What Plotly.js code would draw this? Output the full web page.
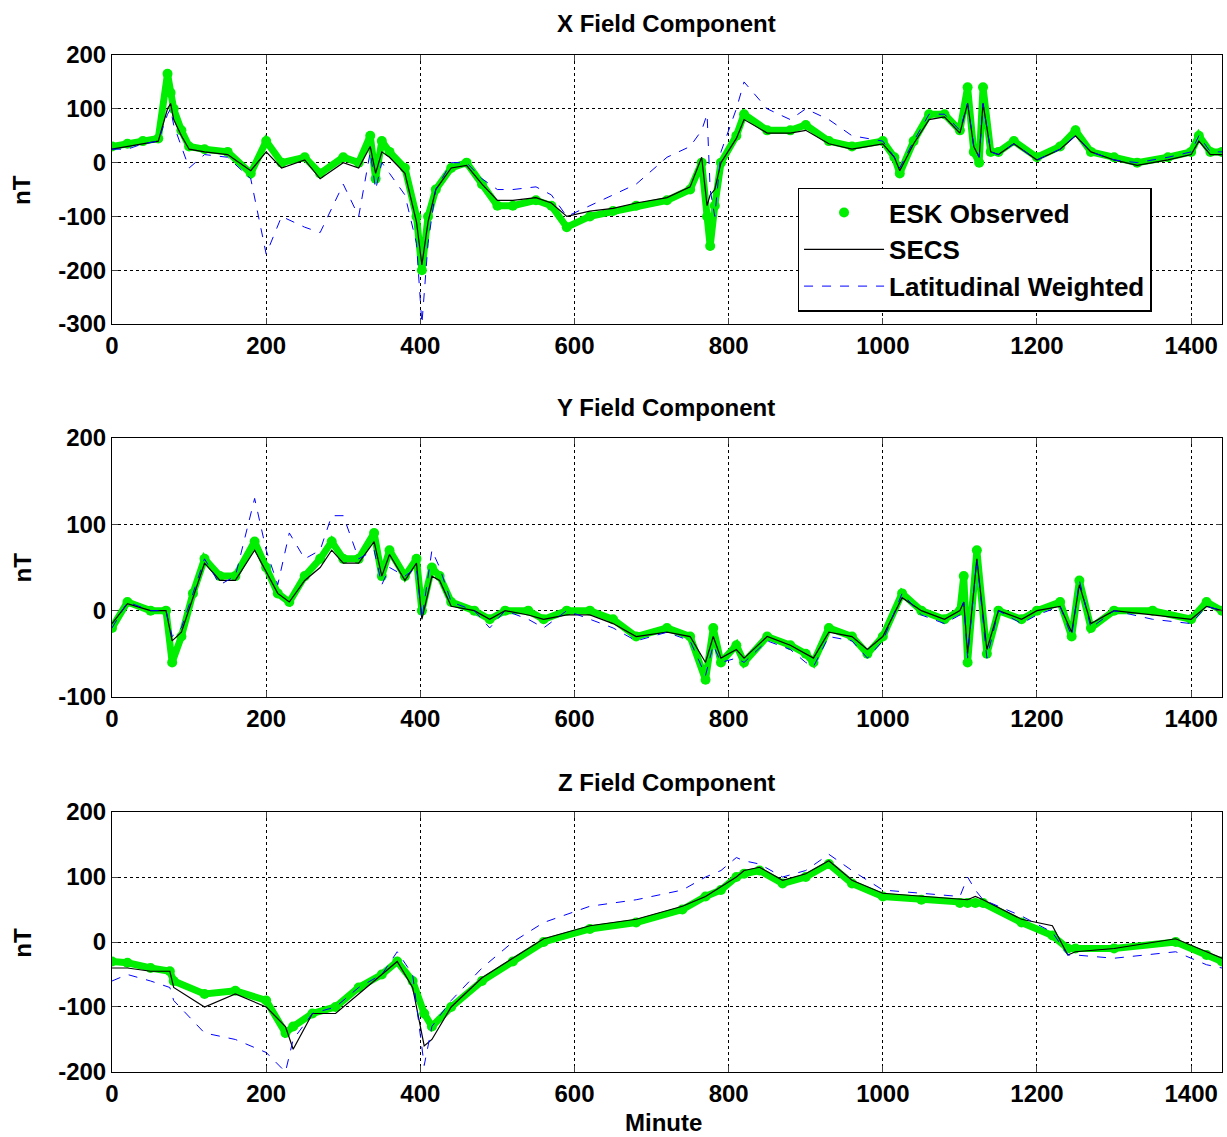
<!DOCTYPE html>
<html>
<head>
<meta charset="utf-8">
<script src="https://cdn.plot.ly/plotly-3.0.1.min.js"></script>
<style>body{margin:0;background:#fff}#chart{width:1227px;height:1137px}</style>
</head>
<body>
<div id="chart"></div>
<script>
// X component
var minX = [0,20,40,60,72,76,80,90,100,120,150,180,200,220,250,270,300,320,335,342,350,360,380,395,402,410,420,440,460,480,500,520,550,570,590,620,650,680,720,750,765,772,776,782,790,810,820,850,880,900,930,960,1000,1015,1022,1040,1060,1080,1100,1110,1118,1125,1130,1140,1150,1170,1200,1230,1250,1270,1300,1330,1370,1400,1410,1425,1440];
var xObs  = [30,35,40,45,165,130,100,60,30,25,20,-20,40,0,10,-20,10,0,50,-30,40,20,-10,-100,-200,-100,-50,-10,0,-40,-80,-80,-70,-80,-120,-100,-90,-80,-70,-50,0,-100,-155,-80,0,50,90,60,60,70,40,30,40,10,-20,40,90,90,60,140,20,0,140,20,20,40,10,30,60,20,10,0,10,20,50,20,20];
var xSecs = [25,30,35,40,100,110,80,50,25,20,15,-15,20,-10,5,-30,0,-10,30,-20,20,10,-20,-110,-190,-110,-50,-10,-5,-40,-70,-70,-65,-75,-100,-90,-85,-75,-65,-45,10,-80,-60,-50,0,45,80,55,55,60,35,25,35,10,-15,35,80,85,55,110,30,10,110,20,15,35,5,25,50,20,5,-5,5,15,40,15,15];
var xLat  = [25,25,35,40,90,100,70,30,-10,15,10,-30,-170,-100,-120,-130,-40,-100,20,-50,0,-20,-60,-150,-300,-150,-50,0,0,-30,-50,-50,-45,-60,-100,-80,-60,-40,10,30,60,90,-50,-100,20,100,150,100,80,100,80,50,40,10,-10,40,90,90,60,110,30,10,110,20,15,35,5,25,50,20,5,0,10,20,50,20,20];
// Y component
var minY = [0,20,50,70,78,90,105,120,140,160,185,200,215,230,250,270,285,300,320,340,350,360,380,395,402,415,425,440,470,490,510,540,560,590,620,650,680,720,750,770,780,790,810,820,850,880,900,910,930,960,980,1000,1025,1050,1080,1100,1105,1110,1122,1135,1150,1180,1200,1230,1245,1255,1270,1300,1350,1400,1420,1440];
var yObs  = [-20,10,0,0,-60,-30,20,60,40,40,80,50,20,10,40,60,80,60,60,90,40,70,40,60,0,50,40,10,0,-10,0,0,-10,0,0,-10,-30,-20,-30,-80,-20,-60,-40,-60,-30,-40,-50,-60,-20,-30,-50,-30,20,0,-10,0,40,-60,70,-50,0,-10,0,10,-30,35,-20,0,0,-10,10,0];
var ySecs = [-15,8,0,0,-35,-25,15,55,35,35,70,45,20,10,35,50,70,55,55,80,40,65,35,55,-10,40,35,5,0,-10,0,-5,-10,-5,-5,-15,-30,-25,-30,-60,-30,-55,-45,-55,-30,-40,-50,-55,-25,-30,-45,-30,15,0,-10,0,10,-50,60,-45,0,-10,0,5,-25,30,-15,0,-5,-10,5,0];
var yLat  = [-20,10,0,0,-30,-20,20,60,30,40,130,70,30,90,60,70,110,110,60,70,30,50,40,50,-10,70,50,10,0,-20,0,-10,-20,0,-10,-20,-35,-25,-35,-75,-40,-60,-55,-60,-35,-45,-60,-65,-30,-35,-55,-35,20,-5,-15,-5,10,-55,60,-55,0,-15,-5,5,-30,35,-20,0,-10,-15,5,0];
// Z component
var minZ = [0,20,50,75,80,120,160,200,225,235,260,290,320,350,370,390,405,415,440,480,520,560,620,680,740,770,790,810,820,840,870,900,930,960,1000,1050,1100,1110,1120,1130,1180,1220,1240,1250,1300,1380,1420,1440];
var zObs  = [-30,-32,-40,-45,-60,-80,-75,-90,-140,-130,-110,-100,-70,-50,-30,-60,-110,-130,-100,-60,-30,0,20,30,50,70,80,100,105,110,90,100,120,90,70,65,60,60,60,60,30,10,-10,-10,-10,0,-20,-30];
var zSecs = [-40,-40,-45,-45,-70,-100,-80,-100,-130,-165,-110,-110,-80,-50,-30,-70,-160,-150,-100,-55,-25,5,25,35,55,70,85,100,110,115,95,105,125,95,75,70,65,65,70,65,35,25,-20,-15,-10,5,-15,-25];
var zLat  = [-60,-50,-60,-70,-90,-140,-150,-170,-200,-150,-110,-100,-70,-50,-15,-50,-190,-130,-90,-40,0,30,55,65,80,100,110,130,125,120,100,110,135,110,80,75,70,100,80,65,40,15,-20,-20,-25,-15,-35,-40];

var xTicks = [0,200,400,600,800,1000,1200,1400];
var yTicksX = [-300,-200,-100,0,100,200];
var yTicksY = [-100,0,100,200];
var yTicksZ = [-200,-100,0,100,200];

var green = '#00ee00';
function set(x, obs, secs, lat, ax) {
  return [
    {x: x, y: obs, mode: 'lines+markers', xaxis: 'x' + ax, yaxis: 'y' + ax,
     line: {color: green, width: 7}, marker: {color: green, size: 10}, showlegend: false},
    {x: x, y: secs, mode: 'lines', xaxis: 'x' + ax, yaxis: 'y' + ax,
     line: {color: 'black', width: 1.2}, showlegend: false},
    {x: x, y: lat, mode: 'lines', xaxis: 'x' + ax, yaxis: 'y' + ax,
     line: {color: '#0000ff', width: 1, dash: 'dash'}, showlegend: false}
  ];
}
var legendOnly = [
  {x: [null], y: [null], mode: 'markers', name: 'ESK Observed', marker: {color: green, size: 10}},
  {x: [null], y: [null], mode: 'lines', name: 'SECS', line: {color: 'black', width: 1.2}},
  {x: [null], y: [null], mode: 'lines', name: 'Latitudinal Weighted', line: {color: '#0000ff', width: 1, dash: 'dash'}}
];
var data = [].concat(set(minX, xObs, xSecs, xLat, ''),
                     set(minY, yObs, ySecs, yLat, '2'),
                     set(minZ, zObs, zSecs, zLat, '3'), legendOnly);

var tf = {family: 'Liberation Sans, Arial, sans-serif', size: 24, color: 'black', weight: 'bold'};
function lab(v) { return v.map(function (t) { return String(t); }); }
function xa(anchor) {
  return {domain: [0.0913, 0.9959], range: [0, 1440], anchor: anchor, tickvals: xTicks, ticktext: lab(xTicks),
    showgrid: true, gridcolor: 'black', griddash: 'dot', gridwidth: 1, zeroline: false,
    showline: true, linecolor: 'black', mirror: 'ticks', ticks: 'inside', ticklen: 6, tickfont: tf};
}
function ya(anchor, dom, range, tv) {
  return {domain: dom, range: range, anchor: anchor, tickvals: tv, ticktext: lab(tv), showgrid: true, gridcolor: 'black', griddash: 'dot',
    gridwidth: 1, zeroline: false, showline: true, linecolor: 'black', mirror: 'ticks', ticks: 'inside', ticklen: 6, tickfont: tf};
}
var af = {family: 'Liberation Sans, Arial, sans-serif', size: 24, color: 'black', weight: 'bold'};
function ann(text, x, y, rot) {
  return {text: '<b>' + text + '</b>', x: x, y: y, xref: 'paper', yref: 'paper', showarrow: false,
    font: af, textangle: rot || 0, xanchor: 'center', yanchor: 'middle'};
}
var layout = {
  width: 1227, height: 1137, margin: {l: 0, r: 0, t: 0, b: 0},
  paper_bgcolor: 'white', plot_bgcolor: 'white',
  xaxis: xa('y'), yaxis: ya('x', [0.7150, 0.9516], [-300, 200], yTicksX),
  xaxis2: xa('y2'), yaxis2: ya('x2', [0.3870, 0.6148], [-100, 200], yTicksY),
  xaxis3: xa('y3'), yaxis3: ya('x3', [0.0572, 0.2858], [-200, 200], yTicksZ),
  legend: {x: 0.650, y: 0.835, xanchor: 'left', yanchor: 'top', bgcolor: 'white', bordercolor: 'black', borderwidth: 1.5,
    font: {family: 'Liberation Sans, Arial, sans-serif', size: 26, color: 'black', weight: 'bold'},
    itemwidth: 80, tracegroupgap: 0},
  annotations: [
    ann('X Field Component', 0.543, 0.979), ann('Y Field Component', 0.543, 0.642), ann('Z Field Component', 0.543, 0.312),
    ann('nT', 0.018, 0.833, -90), ann('nT', 0.018, 0.501, -90), ann('nT', 0.018, 0.171, -90),
    ann('Minute', 0.541, 0.013)
  ]
};
Plotly.newPlot('chart', data, layout, {displayModeBar: false});
</script>
</body>
</html>
